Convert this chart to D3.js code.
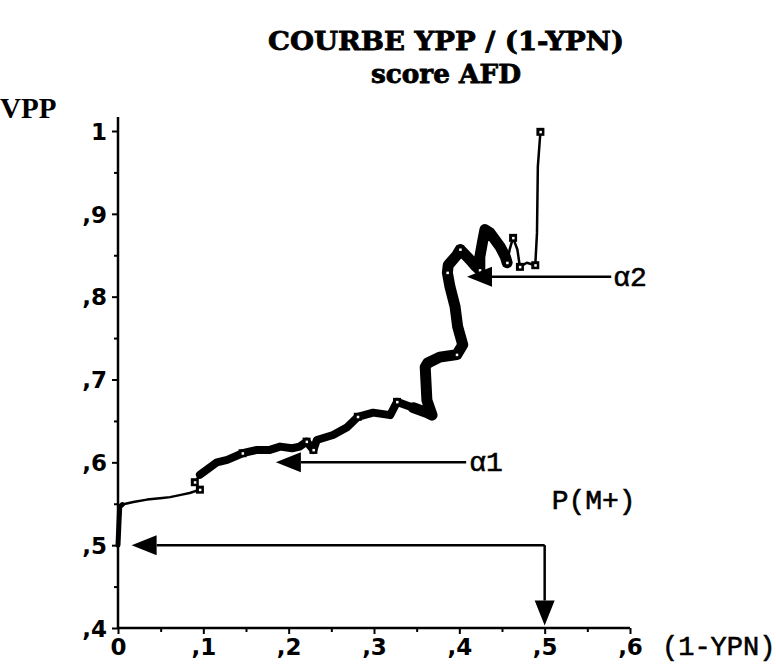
<!DOCTYPE html>
<html>
<head>
<meta charset="utf-8">
<script src="https://cdn.jsdelivr.net/npm/d3@7"></script>
<style>
  body { margin: 0; background: #fff; }
  svg { display: block; }
</style>
</head>
<body>
<div id="chart"></div>
<script>
// curve points (1-VPN, VPP)
const curveX = [0, 0.001, 0.002, 0.005, 0.018, 0.034, 0.052, 0.061, 0.075, 0.084, 0.096,
    0.090, 0.096, 0.116, 0.128, 0.146, 0.163, 0.178, 0.190, 0.204, 0.213, 0.221, 0.229,
    0.233, 0.252, 0.268, 0.281, 0.299, 0.319, 0.327, 0.346, 0.362, 0.368, 0.362, 0.360,
    0.363, 0.377, 0.397, 0.404, 0.398, 0.395, 0.389, 0.386, 0.387, 0.397, 0.401, 0.413,
    0.418, 0.424, 0.424, 0.427, 0.430, 0.436, 0.448, 0.454, 0.456, 0.459, 0.463, 0.468,
    0.471, 0.479, 0.489, 0.491, 0.492, 0.495, 0.498];
const curveY = [0.500, 0.524, 0.546, 0.549, 0.552, 0.555, 0.557, 0.558, 0.561, 0.563, 0.567,
    0.576, 0.585, 0.600, 0.603, 0.611, 0.615, 0.615, 0.619, 0.617, 0.619, 0.625, 0.615,
    0.627, 0.633, 0.642, 0.655, 0.660, 0.657, 0.673, 0.666, 0.660, 0.657, 0.675, 0.715,
    0.720, 0.727, 0.730, 0.742, 0.764, 0.788, 0.812, 0.829, 0.838, 0.850, 0.857, 0.844,
    0.838, 0.832, 0.848, 0.865, 0.881, 0.877, 0.860, 0.848, 0.841, 0.857, 0.871, 0.857,
    0.836, 0.841, 0.838, 0.877, 0.957, 0.999, 0.999];
const markIdx = [10, 11, 15, 21, 22, 26, 29, 37, 42, 45, 48, 55, 57, 59, 61, 64];

const yTicks = [0.4, 0.5, 0.6, 0.7, 0.8, 0.9, 1];
const xTicks = [0, 0.1, 0.2, 0.3, 0.4, 0.5, 0.6];
const titleLines = ["COURBE YPP / (1-YPN)", "score AFD"];

const width = 776, height = 666;
const svg = d3.select('#chart').append('svg')
    .attr('width', width).attr('height', height);

const x = d3.scaleLinear().domain([0, 0.6]).range([118, 630]);
const y = d3.scaleLinear().domain([0.4, 1]).range([628, 131]);

const fmt = v => (v === 0 || v === 1) ? String(v) : ',' + Math.round(v * 10);

// titles
svg.selectAll('text.title').data(titleLines).enter().append('text')
    .attr('class', 'title')
    .attr('x', 446).attr('y', (d, i) => 50 + i * 33)
    .attr('text-anchor', 'middle')
    .attr('font-family', 'DejaVu Serif')
    .attr('font-weight', 'bold')
    .attr('font-size', 26)
    .attr('stroke', '#000').attr('stroke-width', 0.8)
    .attr('textLength', (d, i) => i === 0 ? 356 : 150)
    .attr('lengthAdjust', 'spacingAndGlyphs')
    .text(d => d);

// axes
const yAxis = svg.append('g').attr('transform', `translate(${x(0)},0)`)
    .call(d3.axisLeft(y).tickValues(yTicks).tickSize(6).tickPadding(5).tickFormat(fmt));
svg.append('g').attr('transform', `translate(${x(0)},0)`)
    .call(d3.axisLeft(y).tickValues(d3.range(0.45, 1, 0.1)).tickSize(4).tickFormat(''));
const xAxis = svg.append('g').attr('transform', `translate(0,${y(0.4)})`)
    .call(d3.axisBottom(x).tickValues(xTicks).tickSize(6).tickPadding(4).tickFormat(fmt));
svg.append('g').attr('transform', `translate(0,${y(0.4)})`)
    .call(d3.axisBottom(x).tickValues(d3.range(0.05, 0.6, 0.1)).tickSize(4).tickFormat(''));

svg.selectAll('.domain').remove();
svg.selectAll('.tick line').attr('stroke', '#000').attr('stroke-width', 2);
svg.selectAll('.tick text')
    .attr('font-family', 'DejaVu Sans')
    .attr('font-weight', 'bold')
    .attr('font-size', 23)
    .attr('fill', '#000');
yAxis.selectAll('.tick text').attr('dy', '0.36em');
xAxis.selectAll('.tick text').attr('dy', '0.75em');

// axis lines
svg.append('line')
    .attr('x1', x(0)).attr('x2', x(0))
    .attr('y1', y(1) - 14).attr('y2', y(0.4))
    .attr('stroke', '#000').attr('stroke-width', 2.5);
svg.append('line')
    .attr('x1', x(0)).attr('x2', x(0.6))
    .attr('y1', y(0.4)).attr('y2', y(0.4))
    .attr('stroke', '#000').attr('stroke-width', 2.5);

// axis labels
svg.append('text').attr('x', 0).attr('y', 118)
    .attr('font-family', 'Liberation Serif').attr('font-weight', 'bold')
    .attr('font-size', 29).text('VPP');
svg.append('text').attr('x', 662).attr('y', 655)
    .attr('font-family', 'Liberation Mono').attr('font-size', 27)
    .attr('stroke', '#000').attr('stroke-width', 0.6)
    .text('(1-YPN)');

// curve
const pts = curveX.map((v, i) => [v, curveY[i]]);
const line = d3.line().x(d => x(d[0])).y(d => y(d[1]));
const g = svg.append('g').attr('fill', 'none').attr('stroke', '#000')
    .attr('stroke-linejoin', 'round').attr('stroke-linecap', 'round');

g.append('path').attr('d', line(pts)).attr('stroke-width', 2.5);
g.append('path').attr('d', line(pts.slice(12, 56))).attr('stroke-width', 8);
g.append('path').attr('d', line(pts.slice(30, 56))).attr('stroke-width', 11);
g.append('path').attr('d', line(pts.slice(0, 4))).attr('stroke-width', 5);

// square markers
const marks = svg.append('g').selectAll('g').data(markIdx).enter().append('g')
    .attr('transform', i => `translate(${x(curveX[i])},${y(curveY[i])})`);
marks.append('rect').attr('x', -4).attr('y', -4).attr('width', 8).attr('height', 8).attr('fill', '#000');
marks.append('rect').attr('x', -1).attr('y', -1).attr('width', 2.5).attr('height', 2.5).attr('fill', '#fff');

// arrows
function arrow(x1, y1, x2, y2) {
    const ang = Math.atan2(y2 - y1, x2 - x1);
    const len = 25, hw = 10;
    const bx = x2 - len * Math.cos(ang), by = y2 - len * Math.sin(ang);
    svg.append('line').attr('x1', x1).attr('y1', y1).attr('x2', bx).attr('y2', by)
        .attr('stroke', '#000').attr('stroke-width', 2.5);
    svg.append('path')
        .attr('d', `M${x2},${y2}L${bx - hw * Math.sin(ang)},${by + hw * Math.cos(ang)}L${bx + hw * Math.sin(ang)},${by - hw * Math.cos(ang)}Z`)
        .attr('fill', '#000');
}

arrow(x(0.408), y(0.6), x(0.185), y(0.6));
arrow(x(0.578), y(0.824), x(0.409), y(0.824));
arrow(x(0.5), y(0.5), x(0.016), y(0.5));
arrow(x(0.5), y(0.5), x(0.5), y(0.403));

const lab = svg.append('g').attr('font-family', 'Liberation Mono').attr('font-size', 28)
    .attr('stroke', '#000').attr('stroke-width', 0.6);
lab.append('text').attr('x', x(0.408) + 3).attr('y', y(0.6) + 9).text('α1');
lab.append('text').attr('x', x(0.578) + 2).attr('y', y(0.824) + 9).text('α2');
lab.append('text').attr('x', x(0.5) + 7).attr('y', y(0.5) - 36).text('P(M+)');
</script>
</body>
</html>
